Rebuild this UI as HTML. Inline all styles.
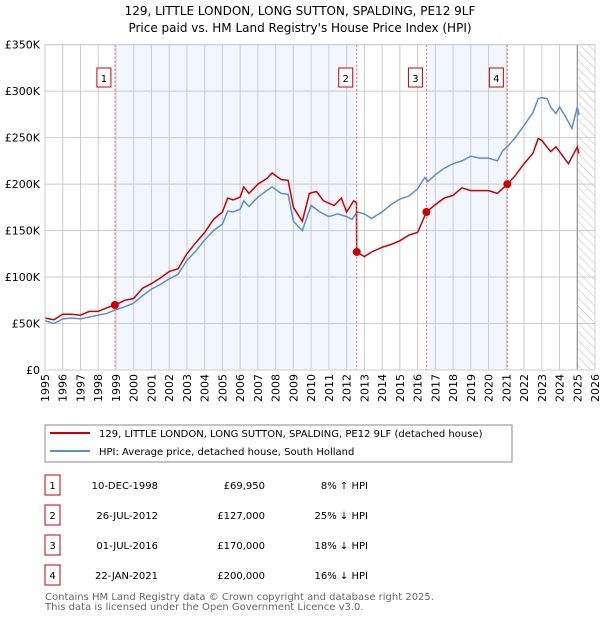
<!DOCTYPE html>
<html><head><meta charset="utf-8"><style>
body{margin:0;background:#fff;font-family:"DejaVu Sans","Liberation Sans",sans-serif;}
</style></head><body>
<svg width="600" height="620" xmlns="http://www.w3.org/2000/svg" font-family="DejaVu Sans, Liberation Sans, sans-serif">
<text x="300" y="15" text-anchor="middle" font-size="12" fill="#000">129, LITTLE LONDON, LONG SUTTON, SPALDING, PE12 9LF</text>
<text x="300" y="32" text-anchor="middle" font-size="12" fill="#000">Price paid vs. HM Land Registry's House Price Index (HPI)</text>
<defs><pattern id="hatch" width="6" height="6" patternUnits="userSpaceOnUse" patternTransform="rotate(-45)"><line x1="0" y1="0" x2="0" y2="6" stroke="#bbb" stroke-width="1"/></pattern>
<clipPath id="clip"><rect x="45" y="44" width="550" height="326"/></clipPath></defs>
<g id="bands"></g>
<g id="grid"></g>
<g id="lines" clip-path="url(#clip)"></g>
<g id="marks"></g>
<g id="axes"></g>
<rect x="45" y="425" width="467" height="37" fill="#fff" stroke="#888"/>
<line x1="50" y1="433" x2="90" y2="433" stroke="#cc0000" stroke-width="2"/>
<text x="99" y="437" font-size="10">129, LITTLE LONDON, LONG SUTTON, SPALDING, PE12 9LF (detached house)</text>
<line x1="50" y1="451" x2="90" y2="451" stroke="#5b8fd0" stroke-width="2"/>
<text x="99" y="455" font-size="10">HPI: Average price, detached house, South Holland</text>
<g id="table" font-size="10"></g>
<text x="45" y="600" font-size="10" fill="#666">Contains HM Land Registry data © Crown copyright and database right 2025.</text>
<text x="45" y="610" font-size="10" fill="#666">This data is licensed under the Open Government Licence v3.0.</text>
</svg>
<script>
const hpiYears=[1995,1995.5,1996,1996.5,1997,1997.5,1998,1998.5,1999,1999.5,2000,2000.5,2001,2001.5,2002,2002.5,2003,2003.5,2004,2004.5,2005,2005.3,2005.6,2006,2006.2,2006.5,2007,2007.5,2007.8,2008.3,2008.7,2009,2009.5,2010,2010.5,2011,2011.5,2012,2012.3,2012.6,2013,2013.4,2014,2014.5,2015,2015.5,2016,2016.4,2016.6,2017,2017.5,2018,2018.5,2019,2019.5,2020,2020.5,2020.8,2021.1,2021.5,2022,2022.5,2022.8,2023,2023.3,2023.5,2023.8,2024,2024.3,2024.7,2025,2025.1];
const hpiValues=[53,50,55,56,55,57,59,61,65,68,72,80,87,92,98,103,118,128,140,150,157,171,170,173,182,176,186,193,197,190,189,160,150,177,170,165,168,165,162,170,168,163,170,178,184,187,195,207,203,210,217,222,225,230,228,228,225,236,241,250,263,277,292,293,292,283,276,283,274,260,283,274];
const ppYears=[1995,1995.5,1996,1996.5,1997,1997.5,1998,1998.5,1998.94,1999.5,2000,2000.5,2001,2001.5,2002,2002.5,2003,2003.5,2004,2004.5,2005,2005.3,2005.6,2006,2006.2,2006.5,2007,2007.5,2007.8,2008.3,2008.7,2009,2009.5,2009.9,2010.3,2010.7,2011.3,2011.7,2012,2012.4,2012.56,2012.57,2013,2013.4,2014,2014.5,2015,2015.5,2016,2016.5,2017,2017.5,2018,2018.5,2019,2019.5,2020,2020.5,2021.06,2021.5,2022,2022.5,2022.8,2023,2023.5,2023.8,2024,2024.5,2025,2025.1];
const ppValues=[56,54,60,60,59,63,63,67,69.95,75,77,88,93,99,106,109,125,137,148,162,170,185,183,186,197,190,200,206,212,205,204,175,160,190,192,182,177,185,170,182,180,127,122,127,132,135,139,145,148,170,178,185,188,196,193,193,193,190,200,209,222,233,249,247,235,240,235,222,240,233];
const saleYears=[1998.94,2012.57,2016.5,2021.06];
const salePrices=[69.95,127,170,200];
const saleDates=["10-DEC-1998","26-JUL-2012","01-JUL-2016","22-JAN-2021"];
const salePriceLabels=["£69,950","£127,000","£170,000","£200,000"];
const saleHpiLabels=["8% ↑ HPI","25% ↓ HPI","18% ↓ HPI","16% ↓ HPI"];
const yTicks=[0,50,100,150,200,250,300,350];
const yTickLabels=["£0","£50K","£100K","£150K","£200K","£250K","£300K","£350K"];
const xTicks=[1995,1996,1997,1998,1999,2000,2001,2002,2003,2004,2005,2006,2007,2008,2009,2010,2011,2012,2013,2014,2015,2016,2017,2018,2019,2020,2021,2022,2023,2024,2025,2026];

const NS="http://www.w3.org/2000/svg";
const X0=45,X1=595,Y0=370,Y1=44.7;
const xs=y=>X0+(y-1995)/(2026-1995)*(X1-X0);
const ys=v=>Y0-v/350*(Y0-Y1);
function mk(tag,attrs,parent,txt){const e=document.createElementNS(NS,tag);for(const k in attrs)e.setAttribute(k,attrs[k]);if(txt!==undefined)e.textContent=txt;document.getElementById(parent).appendChild(e);return e;}

// bands
let b=mk('rect',{x:xs(saleYears[0]),y:Y1,width:xs(saleYears[1])-xs(saleYears[0]),height:Y0-Y1,fill:'#f2f6fd'},'bands');


b=mk('rect',{x:xs(saleYears[2]),y:Y1,width:xs(saleYears[3])-xs(saleYears[2]),height:Y0-Y1,fill:'#f2f6fd'},'bands');


b=mk('rect',{x:xs(2025.0),y:Y1,width:X1-xs(2025.0),height:Y0-Y1,fill:'url(#hatch)'},'bands');



// grid
xTicks.forEach((t,i)=>{
 let l=mk('line',{x1:xs(t),x2:xs(t),y1:Y1,y2:Y0,stroke:'#ccc','stroke-width':1},'grid');
 
 
 let x=xs(t);
 let tx=mk('text',{x:0,y:0,'font-size':11,'text-anchor':'end',transform:`translate(${x+4},${Y0+4}) rotate(-90)`},'axes',String(t));
 
 
});
yTicks.forEach((t,i)=>{
 let l=mk('line',{x1:X0,x2:X1,y1:ys(t),y2:ys(t),stroke:'#ccc','stroke-width':1},'grid');
 
 
 let tx=mk('text',{x:40,y:ys(t)+4,'font-size':11,'text-anchor':'end'},'axes',yTickLabels[i]);
 
 
});
let vl=mk('line',{x1:xs(2025.0),x2:xs(2025.0),y1:Y1,y2:Y0,stroke:'#888','stroke-width':1},'grid');



// lines
const pts=(a,b)=>a.map((y,i)=>xs(y).toFixed(1)+','+ys(b[i]).toFixed(1)).join(' ');
let hp=mk('polyline',{points:pts(hpiYears,hpiValues),fill:'none',stroke:'#5b8fd0','stroke-width':1.5},'lines');


let pp=mk('polyline',{points:pts(ppYears,ppValues),fill:'none',stroke:'#cc0000','stroke-width':1.5},'lines');



// sale markers
saleYears.forEach((y,i)=>{
 let l=mk('line',{x1:xs(y),x2:xs(y),y1:Y1,y2:Y0,stroke:'#e66','stroke-width':1,'stroke-dasharray':'2,2'},'marks');
 
 
 let c=mk('circle',{cx:xs(y),cy:ys(salePrices[i]),r:4,fill:'#cc0000'},'marks');
 
 
 let r=mk('rect',{x:xs(y)-18,y:68,width:14,height:19,fill:'#fff',stroke:'#cc0000'},'marks');
 
 
 let t=mk('text',{x:xs(y)-11,y:82,'font-size':10,'text-anchor':'middle'},'marks',String(i+1));
 
 
});
let frame=mk('rect',{x:X0,y:Y1,width:X1-X0,height:Y0-Y1,fill:'none',stroke:'#ccc'},'axes');



// table
saleDates.forEach((d,i)=>{
 const cy=485+i*30;
 let r=mk('rect',{x:45,y:cy-10,width:15,height:20,fill:'#fff',stroke:'#cc0000'},'table');
 
 
 let t=mk('text',{x:52.5,y:cy+4,'text-anchor':'middle'},'table',String(i+1));
 
 
 t=mk('text',{x:158,y:cy+4,'text-anchor':'end'},'table',d);
 
 
 t=mk('text',{x:265,y:cy+4,'text-anchor':'end'},'table',salePriceLabels[i]);
 
 
 t=mk('text',{x:368,y:cy+4,'text-anchor':'end'},'table',saleHpiLabels[i]);
 
 
});
</script>
</body></html>
